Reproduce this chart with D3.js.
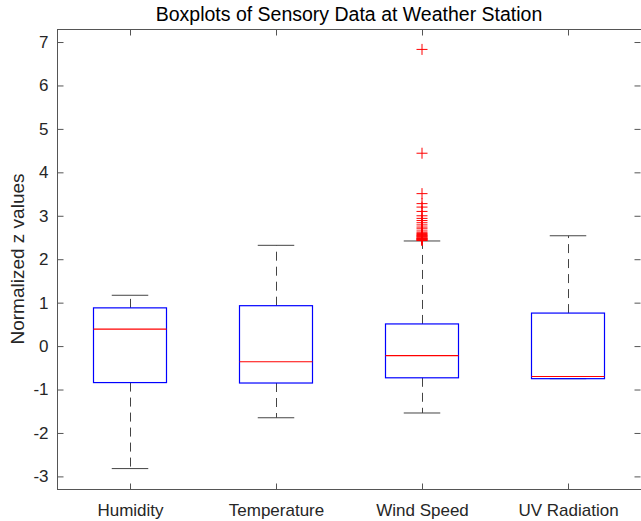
<!DOCTYPE html>
<html>
<head>
<meta charset="utf-8">
<script src="https://cdn.jsdelivr.net/npm/d3@7"></script>
<style>
  html, body { margin: 0; padding: 0; background: #fff; }
  svg { display: block; font-family: "Liberation Sans", Arial, Helvetica, sans-serif; }
</style>
</head>
<body>
<script>
// Sensor variables (one box per variable)
const categories = ["Humidity", "Temperature", "Wind Speed", "UV Radiation"];
// Five-number summaries: lower whisker, Q1, median, Q3, upper whisker
const whiskerLow  = [-2.82, -1.65, -1.54, -0.75];
const quartile1   = [-0.84, -0.85, -0.73, -0.75];
const medians     = [ 0.39, -0.36, -0.22, -0.70];
const quartile3   = [ 0.88,  0.93,  0.51,  0.76];
const whiskerHigh = [ 1.17,  2.32,  2.42,  2.54];
// Outliers beyond the upper whisker (Wind Speed only)
const windOutliers = [6.83, 4.44, 3.51, 3.28, 3.20, 3.10, 3.00, 2.94, 2.89, 2.84,
  2.79, 2.74, 2.70, 2.65, 2.61, 2.59, 2.57, 2.55, 2.54, 2.52, 2.51, 2.49, 2.48,
  2.47, 2.46, 2.45, 2.44, 2.43];
const yTicks = [-3, -2, -1, 0, 1, 2, 3, 4, 5, 6, 7];

const W = 641, H = 521;
const margin = { left: 57, right: 0, top: 29, bottom: 32 };
const x0 = margin.left, x1 = W - margin.right;
const y0 = margin.top, y1 = H - margin.bottom;

const svg = d3.select("body").append("svg").attr("width", W).attr("height", H);

const x = d3.scaleLinear().domain([0.5, 4.5]).range([x0, x1]);
const y = d3.scaleLinear().domain([-3.29, 7.3]).range([y1, y0]);
const axisColor = "#555";
const textColor = "#262626";

// Axes frame
svg.append("rect").attr("x", x0 + 0.5).attr("y", y0 + 0.5)
  .attr("width", x1 - x0).attr("height", y1 - y0)
  .attr("fill", "none").attr("stroke", axisColor).attr("stroke-width", 1);

// Y axis (left, ticks inward) and mirrored ticks on the right; plain hyphen minus
const yAxis = d3.axisLeft(y).tickValues(yTicks).tickFormat(d => String(d))
  .tickSizeInner(-6).tickSizeOuter(0).tickPadding(9);
const gy = svg.append("g").attr("transform", `translate(${x0 + 0.5},0)`).call(yAxis);
const yAxisR = d3.axisRight(y).tickValues(yTicks).tickSizeInner(-6).tickSizeOuter(0).tickFormat("");
const gyr = svg.append("g").attr("transform", `translate(${x1 - 0.5},0)`).call(yAxisR);

// X axis (bottom, ticks inward) and mirrored ticks on the top
const catIdx = categories.map((_, i) => i + 1);
const xAxis = d3.axisBottom(x).tickValues(catIdx).tickFormat(d => categories[d - 1])
  .tickSizeInner(-6).tickSizeOuter(0).tickPadding(14);
const gx = svg.append("g").attr("transform", `translate(0,${y1 + 0.5})`).call(xAxis);
const xAxisT = d3.axisTop(x).tickValues(catIdx).tickFormat("").tickSizeInner(-6).tickSizeOuter(0);
const gxt = svg.append("g").attr("transform", `translate(0,${y0 + 0.5})`).call(xAxisT);

[gy, gyr, gx, gxt].forEach(g => {
  g.select(".domain").remove();
  g.selectAll(".tick line").attr("stroke", axisColor);
  g.selectAll(".tick text").attr("fill", textColor).attr("font-size", 17)
    .attr("font-family", "Liberation Sans, Arial, sans-serif");
});

// Boxes
const data = categories.map((c, i) => ({
  i: i + 1, lo: whiskerLow[i], q1: quartile1[i], med: medians[i], q3: quartile3[i], hi: whiskerHigh[i]
}));
const boxHalf = 0.25, capHalf = 0.125;
const g = svg.append("g");

data.forEach(d => {
  const cx = Math.round(x(d.i)) + 0.5;
  const dash = "9,6";
  // whiskers (dashed)
  if (d.hi > d.q3) {
    g.append("line").attr("x1", cx).attr("x2", cx).attr("y1", y(d.q3)).attr("y2", y(d.hi))
      .attr("stroke", "#444").attr("stroke-dasharray", dash);
  }
  if (d.lo < d.q1) {
    g.append("line").attr("x1", cx).attr("x2", cx).attr("y1", y(d.q1)).attr("y2", y(d.lo))
      .attr("stroke", "#444").attr("stroke-dasharray", dash);
  }
  // caps
  [d.lo, d.hi].forEach(v => {
    g.append("line").attr("x1", x(d.i - capHalf)).attr("x2", x(d.i + capHalf))
      .attr("y1", y(v)).attr("y2", y(v)).attr("stroke", "#444");
  });
  // box
  g.append("rect").attr("x", x(d.i - boxHalf)).attr("y", y(d.q3))
    .attr("width", x(d.i + boxHalf) - x(d.i - boxHalf)).attr("height", y(d.q1) - y(d.q3))
    .attr("fill", "none").attr("stroke", "#0000ff").attr("stroke-width", 1.2);
  // median
  g.append("line").attr("x1", x(d.i - boxHalf)).attr("x2", x(d.i + boxHalf))
    .attr("y1", y(d.med)).attr("y2", y(d.med)).attr("stroke", "#ff0000").attr("stroke-width", 1.1);
});

// Outliers as red plus markers
const ps = 5.5;
const cxw = x(3);
g.selectAll("path.outlier").data(windOutliers).join("path")
  .attr("class", "outlier")
  .attr("d", v => `M${cxw - ps},${y(v)}H${cxw + ps}M${cxw},${y(v) - ps}V${y(v) + ps}`)
  .attr("stroke", "#ff0000").attr("stroke-width", 1).attr("fill", "none");

// Title and y label
svg.append("text").attr("x", (x0 + x1) / 2).attr("y", 21).attr("text-anchor", "middle")
  .attr("font-size", 19.5).attr("fill", "#000").text("Boxplots of Sensory Data at Weather Station");
svg.append("text").attr("transform", `translate(24,${(y0 + y1) / 2}) rotate(-90)`)
  .attr("text-anchor", "middle").attr("font-size", 19).attr("fill", textColor)
  .text("Normalized z values");
</script>
</body>
</html>
